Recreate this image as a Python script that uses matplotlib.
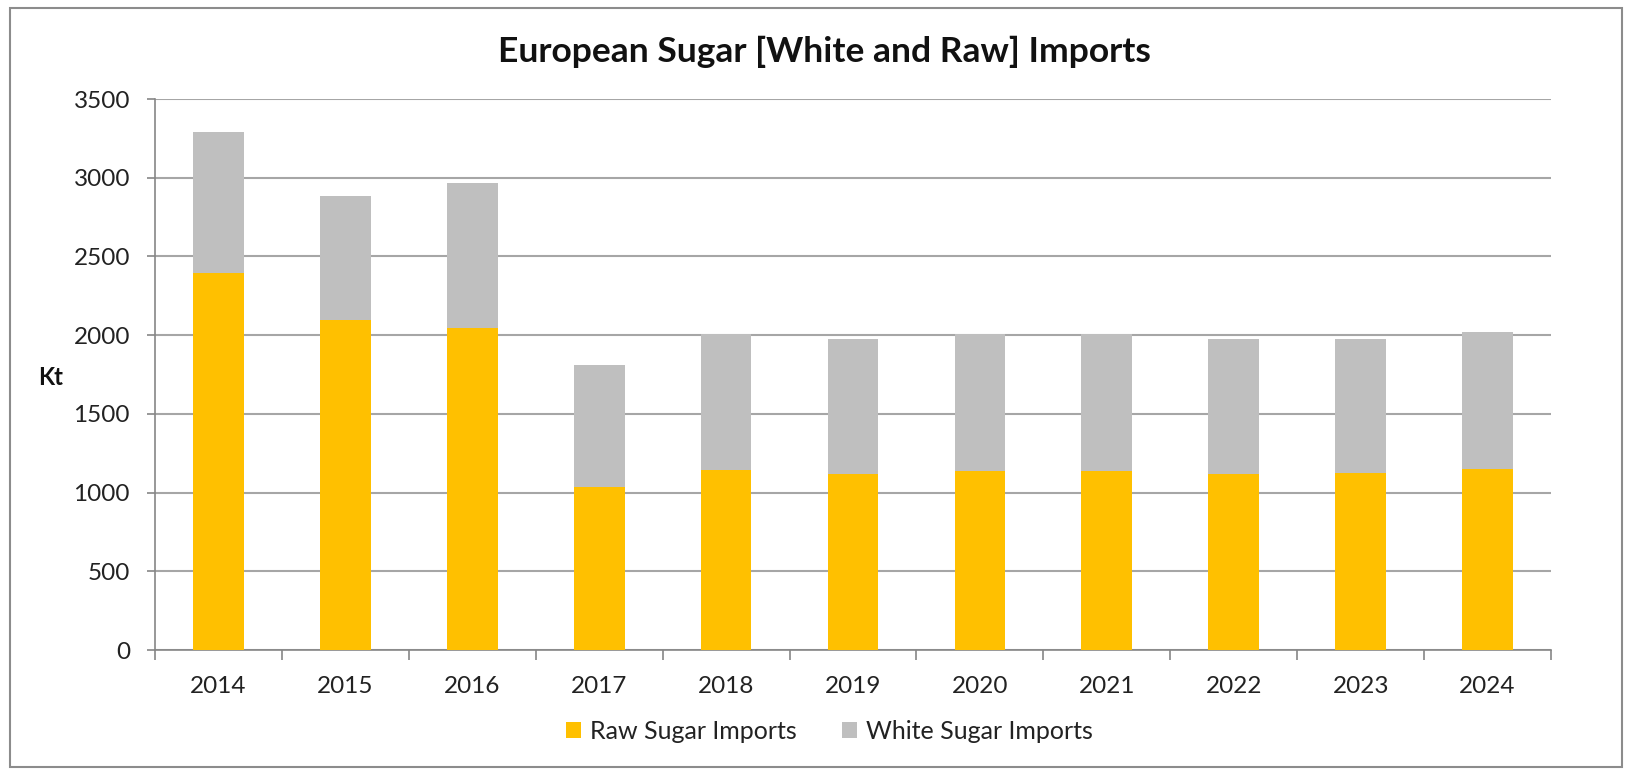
import matplotlib.pyplot as plt
from matplotlib.patches import Rectangle
import numpy as np

years = ['2014', '2015', '2016', '2017', '2018', '2019', '2020', '2021', '2022', '2023', '2024']
raw_sugar = [2395, 2094, 2043, 1038, 1145, 1120, 1137, 1137, 1120, 1126, 1152]
total_imports = [3290, 2886, 2968, 1811, 2010, 1975, 2010, 2010, 1975, 1975, 2017]
white_sugar = [t - r for t, r in zip(total_imports, raw_sugar)]

plt.rcParams['font.family'] = ['Lato', 'DejaVu Sans']

fig = plt.figure(figsize=(16.31, 7.70), dpi=100)
fig.patch.set_facecolor('white')
ax = fig.add_axes([0.095, 0.1558, 0.856, 0.7156])

x = np.arange(len(years))
ax.bar(x, raw_sugar, width=0.4, color='#FFC000', label='Raw Sugar Imports', zorder=3)
ax.bar(x, white_sugar, width=0.4, bottom=raw_sugar, color='#BFBFBF',
       label='White Sugar Imports', zorder=3)

ax.set_xlim(-0.5, len(years) - 0.5)
ax.set_ylim(0, 3500)
ax.set_yticks(range(0, 3501, 500))
ax.yaxis.grid(True, color='#A6A6A6', linewidth=1.5, zorder=0)

# labels centred on bars, tick marks between categories
ax.set_xticks(x)
ax.set_xticklabels(years)
ax.set_xticks(np.arange(-0.5, len(years)), minor=True)
ax.tick_params(axis='x', which='major', length=0, pad=19, labelsize=17.5, labelcolor='#222222')
ax.tick_params(axis='x', which='minor', length=7, width=1.2, color='#868686')
ax.tick_params(axis='y', length=6, width=1.2, color='#868686', pad=12,
               labelsize=17.5, labelcolor='#222222')

for s in ['top', 'right']:
    ax.spines[s].set_visible(False)
for s in ['left', 'bottom']:
    ax.spines[s].set_color('#868686')
    ax.spines[s].set_linewidth(1.2)

fig.text(0.5055, 0.932, 'European Sugar [White and Raw] Imports', ha='center', va='center',
         fontsize=25.5, fontweight='bold', color='#111111')
fig.text(0.0307, 0.51, 'Kt', ha='center', va='center', fontsize=17, fontweight='bold',
         color='#111111')

ax.legend(loc='center', bbox_to_anchor=(0.5085, 0.050), bbox_transform=fig.transFigure,
          ncol=2, frameon=False, fontsize=18, handlelength=0.6, handleheight=0.6,
          handletextpad=0.35, columnspacing=1.8, labelcolor='#222222')

fig.add_artist(Rectangle((10 / 1631, 3 / 770), 1612 / 1631, 759 / 770,
                         transform=fig.transFigure, fill=False,
                         edgecolor='#8C8C8C', linewidth=1.5))

fig.savefig('out.png', dpi=100)
